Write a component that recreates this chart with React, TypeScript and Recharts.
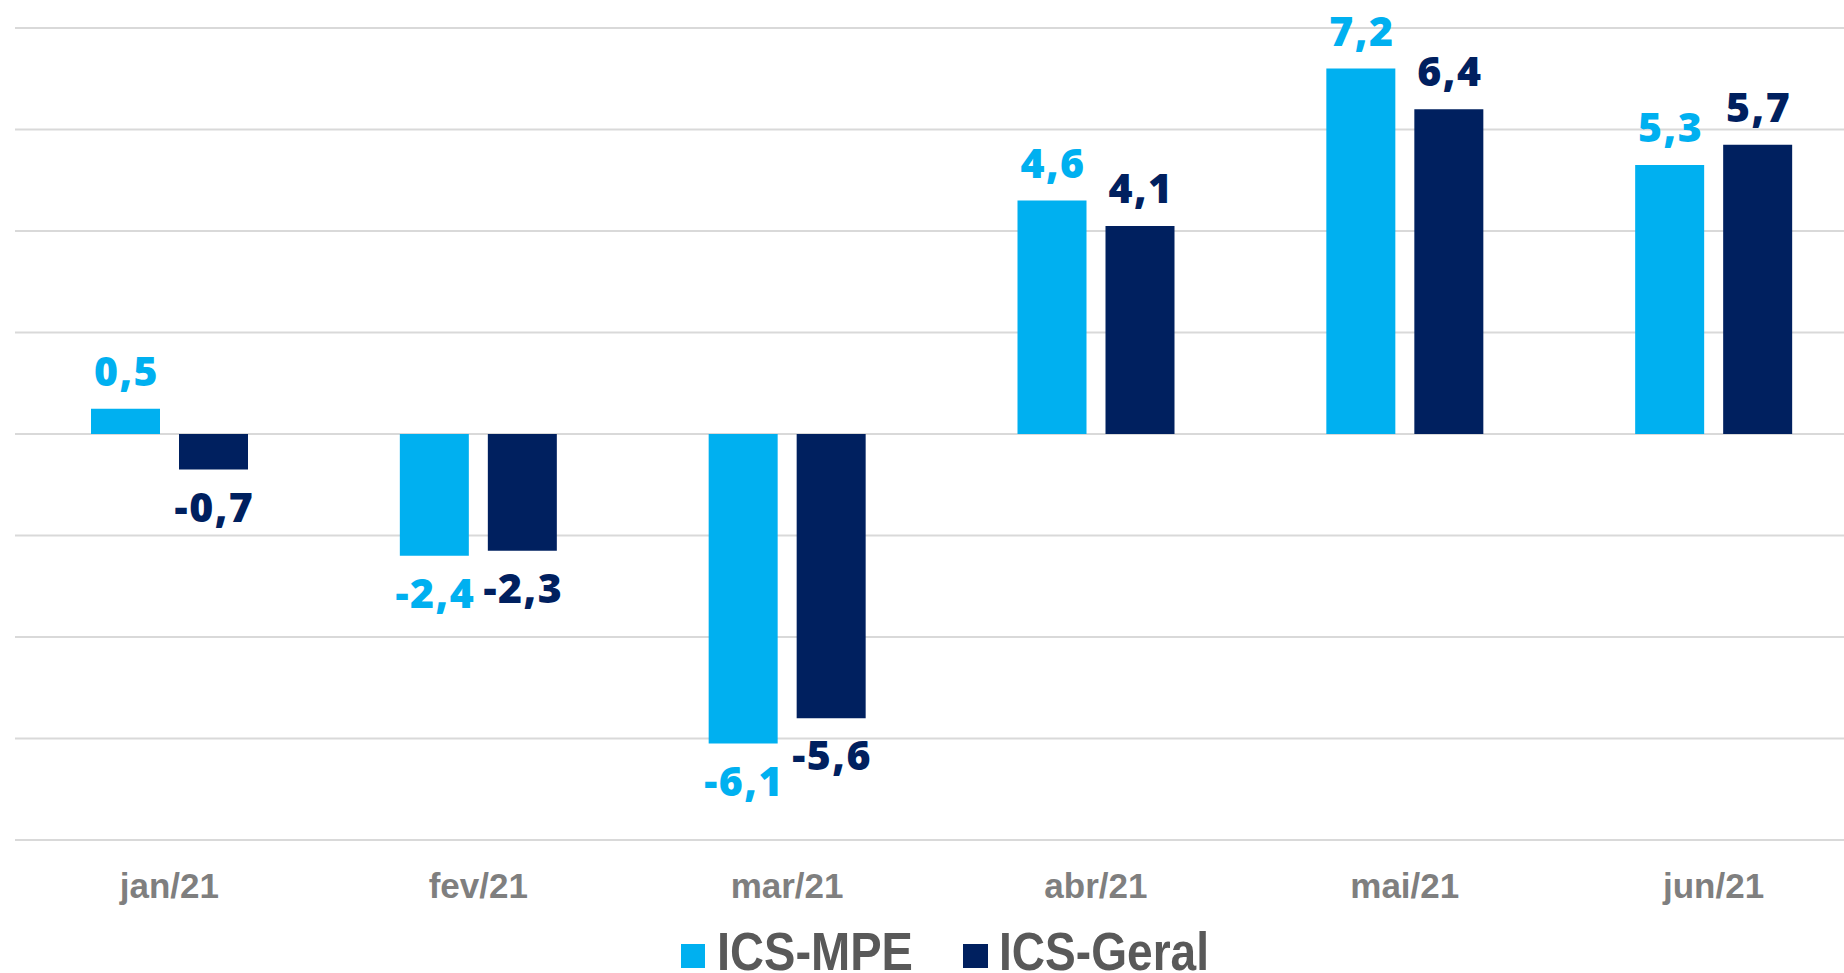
import React from 'react';
import { BarChart, Bar, XAxis, YAxis, CartesianGrid, LabelList, Legend } from 'recharts';

const categories = ['jan/21', 'fev/21', 'mar/21', 'abr/21', 'mai/21', 'jun/21'];
const icsMpe = [0.5, -2.4, -6.1, 4.6, 7.2, 5.3];
const icsGeral = [-0.7, -2.3, -5.6, 4.1, 6.4, 5.7];
const yTicks = [-8, -6, -4, -2, 0, 2, 4, 6, 8];
const seriesNames = ['ICS-MPE', 'ICS-Geral'];

const MPE_COLOR = '#00B0F0';
const GERAL_COLOR = '#00205F';

const data = categories.map((c, i) => ({ cat: c, mpe: icsMpe[i], geral: icsGeral[i] }));

const fmt = (v: number) => v.toFixed(1).replace('.', ',');

const makeLabel = (color: string) => (props: any) => {
  const x = Number(props.x);
  const y = Number(props.y);
  const w = Number(props.width);
  const h = Number(props.height);
  const value = Number(props.value);
  const top = Math.min(y, y + h);
  const bottom = Math.max(y, y + h);
  const cx = x + w / 2;
  const ty = value >= 0 ? top - 23 : bottom + 52;
  return (
    <text
      x={cx + 1}
      y={ty}
      textAnchor="middle"
      fill={color}
      style={{ fontFamily: '"Open Sans", sans-serif', fontWeight: 800, fontSize: 41, letterSpacing: 1.5 }}
    >
      {fmt(value)}
    </text>
  );
};

const renderTick = (props: any) => {
  const { x, y, payload } = props;
  return (
    <text
      x={Number(x)}
      y={Number(y) + 57.5}
      textAnchor="middle"
      fill="#7F7F7F"
      style={{ fontFamily: '"Liberation Sans", Arial, sans-serif', fontWeight: 700, fontSize: 35 }}
    >
      {payload.value}
    </text>
  );
};

const emptyTick = () => <g />;

const renderLegend = () => (
  <svg width={1844} height={60} style={{ overflow: 'visible', display: 'block' }}>
    <rect x={681} y={31} width={24} height={24} fill={MPE_COLOR} />
    <text
      x={717}
      y={57}
      textLength={196}
      lengthAdjust="spacingAndGlyphs"
      fill="#595959"
      style={{ fontFamily: '"Liberation Sans", Arial, sans-serif', fontWeight: 700, fontSize: 53 }}
    >
      {seriesNames[0]}
    </text>
    <rect x={963} y={31} width={25} height={24} fill={GERAL_COLOR} />
    <text
      x={999}
      y={57}
      textLength={210}
      lengthAdjust="spacingAndGlyphs"
      fill="#595959"
      style={{ fontFamily: '"Liberation Sans", Arial, sans-serif', fontWeight: 700, fontSize: 53 }}
    >
      {seriesNames[1]}
    </text>
  </svg>
);

export default function App() {
  return (
    <div style={{ width: 1844, height: 973, overflow: 'hidden', position: 'relative', background: '#fff' }}>
      <style>{'body{margin:0;overflow:hidden;}'}</style>
      <BarChart
        width={1868}
        height={973}
        data={data}
        margin={{ top: 28, right: 0, bottom: 0, left: 15 }}
        barSize={69}
        barGap={19}
      >
        <CartesianGrid vertical={false} stroke="#D9D9D9" strokeWidth={2} />
        <YAxis
          width={0}
          domain={[-8, 8]}
          ticks={yTicks}
          tick={emptyTick}
          axisLine={false}
          tickLine={false}
          allowDataOverflow
        />
        <XAxis
          dataKey="cat"
          height={73}
          axisLine={false}
          tickLine={false}
          tickSize={0}
          tickMargin={0}
          tick={renderTick}
          interval={0}
        />
        <Legend
          verticalAlign="bottom"
          height={60}
          content={renderLegend}
          wrapperStyle={{ left: 0, width: 1844, bottom: 0 }}
        />
        <Bar dataKey="mpe" name={seriesNames[0]} fill={MPE_COLOR} isAnimationActive={false}>
          <LabelList dataKey="mpe" content={makeLabel(MPE_COLOR)} />
        </Bar>
        <Bar dataKey="geral" name={seriesNames[1]} fill={GERAL_COLOR} isAnimationActive={false}>
          <LabelList dataKey="geral" content={makeLabel(GERAL_COLOR)} />
        </Bar>
      </BarChart>
    </div>
  );
}
